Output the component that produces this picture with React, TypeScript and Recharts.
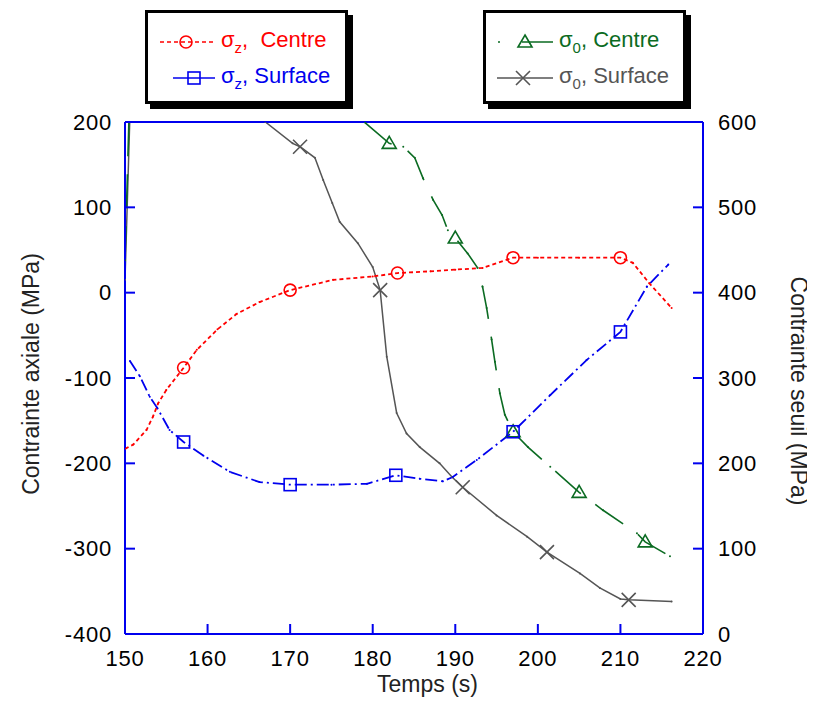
import { LineChart, Line, XAxis, YAxis } from 'recharts'

// temps (s) et contraintes
const centreT = [150, 151, 152.6, 153.4, 154, 155, 157.1, 158.7, 161.2, 163.5, 166.3, 170, 175.2, 180, 183, 187, 190, 193.3, 197, 200, 205, 210, 211.5, 213.5, 216.2]
const centreZ = [-183, -178, -161, -145, -130, -114, -88, -67, -43, -25, -11, 3, 15, 19, 23, 25, 27, 29, 41, 41, 41, 41, 35, 11, -18]
const centreMarks = [157.1, 170, 183, 197, 210]

const surfaceT = [150.6, 151.8, 153, 153.9, 155.4, 157.1, 159.5, 162.7, 166.3, 170, 175, 179.3, 182.8, 185.7, 188.5, 189.7, 192.6, 197, 201.5, 205.9, 210, 213.2, 215.8]
const surfaceZ = [-80, -98, -122, -135, -161, -175, -191, -210, -222, -225, -225, -224, -214, -218, -221, -216, -196, -163, -120, -79, -46, 7, 33]
const surfaceMarks = [157.1, 170, 182.8, 197, 210]

const seuilCentreT = [150, 150.5, 160, 179.1, 182, 183.7, 185.1, 186.1, 187.3, 188.4, 189.1, 190, 191.5, 192.7, 193.3, 193.8, 194.4, 194.8, 195.4, 196, 197, 198.8, 201.5, 205, 207.9, 212, 213, 216]
const seuilCentre = [438, 610, null, 599, 575, 571, 558, 534, 509, 491, 473, 464, 446, 429, 407, 382, 345, 319, 282, 257, 237, 219, 196, 166, 145, 118, 108, 91]
const seuilCentreMarks = [182, 190, 197, 205, 213]

const seuilSurfaceT = [150, 150.6, 160, 167, 170.3, 171.2, 173, 174, 175.1, 176, 178.2, 180, 180.9, 181.7, 182.9, 184.1, 185.7, 188.1, 189.6, 190.9, 195, 198.7, 201.1, 205.1, 207.5, 210, 211, 216.2]
const seuilSurface = [415, 610, null, 600, 575, 571, 558, 532, 505, 483, 458, 430, 403, 325, 259, 235, 219, 200, 184, 172, 139, 114, 96, 71, 54, 41, 40, 38]
const seuilSurfaceMarks = [171.2, 180.9, 190.9, 201.1, 211]

const timeTicks = [150, 160, 170, 180, 190, 200, 210, 220]
const axialTicks = [-400, -300, -200, -100, 0, 100, 200]
const seuilTicks = [0, 100, 200, 300, 400, 500, 600]

const RED = '#ff0000'
const BLUE = '#0000ee'
const GREEN = '#0b6b22'
const GRAY = '#555555'
const FONT = '"Liberation Sans", Arial, Helvetica, sans-serif'

const build = (ts: number[], vs: (number | null)[], marks: number[]) =>
  ts.map((t, i) => ({ t, v: vs[i], m: marks.includes(t) }))

type Shape = 'circle' | 'square' | 'triangle' | 'cross'

function Marker({ shape, x, y, color }: { shape: Shape; x: number; y: number; color: string }) {
  if (shape === 'circle') return <circle cx={x} cy={y} r={6} fill="none" stroke={color} strokeWidth={1.6} />
  if (shape === 'square') return <rect x={x - 6} y={y - 6} width={12} height={12} fill="none" stroke={color} strokeWidth={1.6} />
  if (shape === 'triangle')
    return <path d={`M${x},${y - 7} L${x + 7},${y + 5} L${x - 7},${y + 5} Z`} fill="none" stroke={color} strokeWidth={1.6} />
  return <path d={`M${x - 7},${y - 7} L${x + 7},${y + 7} M${x - 7},${y + 7} L${x + 7},${y - 7}`} stroke={color} strokeWidth={1.6} />
}

const dotFor = (shape: Shape, color: string) => (props: any) => {
  const { cx, cy, payload, index } = props
  if (cx == null || cy == null || payload.v == null) return <g key={`d${index}`} />
  if (payload.m) return <g key={`d${index}`}><Marker shape={shape} x={cx} y={cy} color={color} /></g>
  return <circle key={`d${index}`} cx={cx} cy={cy} r={1} fill={color} />
}

const tickStyle = { fontSize: 22, fill: '#000', fontFamily: FONT, letterSpacing: 0.8 }
const axisStyle = { stroke: BLUE, strokeWidth: 2 }

function LegendBox({ left, rows }: { left: number; rows: { shape: Shape; color: string; dash?: string; x1: number; mx: number; name: string; sub: string; gap?: string }[] }) {
  return (
    <div style={{ position: 'absolute', left, top: 2, width: 203, height: 94, boxSizing: 'border-box', border: '3px solid #000', boxShadow: '5px 5px 0 #000', background: '#fff' }}>
      {rows.map((r, i) => (
        <div key={i} style={{ position: 'absolute', left: 0, top: 14 + i * 36, height: 30, width: 200 }}>
          <svg width={70} height={30} style={{ position: 'absolute', left: 0, top: 0 }}>
            <line x1={r.x1} y1={15} x2={67} y2={15} stroke={r.color} strokeWidth={1.6} strokeDasharray={r.dash} />
            <Marker shape={r.shape} x={r.mx} y={15} color={r.color} />
          </svg>
          <div style={{ position: 'absolute', left: 73, top: 0, color: r.color, fontFamily: FONT, fontSize: 22, whiteSpace: 'pre', lineHeight: '26px' }}>
            σ<sub style={{ fontSize: 15, verticalAlign: '-6px' }}>{r.sub}</sub>{r.gap ?? ', '}{r.name}
          </div>
        </div>
      ))}
    </div>
  )
}

export default function App() {
  const centre = build(centreT, centreZ, centreMarks)
  const surface = build(surfaceT, surfaceZ, surfaceMarks)
  const sCentre = build(seuilCentreT, seuilCentre, seuilCentreMarks)
  const sSurface = build(seuilSurfaceT, seuilSurface, seuilSurfaceMarks)
  return (
    <div style={{ position: 'relative', width: 800, height: 719, fontFamily: FONT }}>
      <LineChart width={800} height={719} margin={{ top: 112, right: 30, bottom: 33, left: 0 }}>
        <XAxis dataKey="t" type="number" domain={[150, 220]} ticks={timeTicks} interval={0} allowDataOverflow
          axisLine={axisStyle} tickLine={axisStyle} tickSize={-10} tickMargin={26} tick={tickStyle} height={60} />
        <XAxis xAxisId="top" orientation="top" dataKey="t" type="number" domain={[150, 220]} ticks={timeTicks} interval={0}
          axisLine={axisStyle} tickLine={axisStyle} tickSize={-10} tickFormatter={() => ''} height={2} />
        <YAxis yAxisId="left" type="number" domain={[-400, 200]} ticks={axialTicks} interval={0} allowDataOverflow
          axisLine={axisStyle} tickLine={axisStyle} tickSize={-10} tickMargin={23} tick={tickStyle} width={117} />
        <YAxis yAxisId="right" orientation="right" type="number" domain={[0, 600]} ticks={seuilTicks} interval={0} allowDataOverflow
          axisLine={axisStyle} tickLine={axisStyle} tickSize={-10} tickMargin={25} tick={{ ...tickStyle, textAnchor: 'start' }} width={75} />
        <Line yAxisId="right" data={sSurface} dataKey="v" type="linear" stroke={GRAY} strokeWidth={1.5}
          dot={dotFor('cross', GRAY)} isAnimationActive={false} connectNulls={false} />
        <Line yAxisId="right" data={sCentre} dataKey="v" type="linear" stroke={GREEN} strokeWidth={1.6} strokeDasharray="34 18"
          dot={dotFor('triangle', GREEN)} isAnimationActive={false} connectNulls={false} />
        <Line yAxisId="left" data={surface} dataKey="v" type="linear" stroke={BLUE} strokeWidth={1.8} strokeDasharray="12 4 2 4"
          dot={dotFor('square', BLUE)} isAnimationActive={false} />
        <Line yAxisId="left" data={centre} dataKey="v" type="linear" stroke={RED} strokeWidth={1.8} strokeDasharray="4 3"
          dot={dotFor('circle', RED)} isAnimationActive={false} />
      </LineChart>

      <div style={{ position: 'absolute', left: 369, top: 663, fontSize: 23, color: '#222' }}>Temps (s)</div>
      <div style={{ position: 'absolute', left: 23, top: 366, fontSize: 23, color: '#222', whiteSpace: 'nowrap', transform: 'translate(-50%, -50%) rotate(-90deg)' }}>
        Contrainte axiale (MPa)
      </div>
      <div style={{ position: 'absolute', left: 790, top: 383, fontSize: 23, color: '#222', whiteSpace: 'nowrap', transform: 'translate(-50%, -50%) rotate(90deg)' }}>
        Contrainte seuil (MPa)
      </div>

      <LegendBox left={137} rows={[
        { shape: 'circle', color: RED, dash: '4 3', x1: 12, mx: 38, name: 'Centre', sub: 'z', gap: ',  ' },
        { shape: 'square', color: BLUE, x1: 25, mx: 46, name: 'Surface', sub: 'z' },
      ]} />
      <LegendBox left={475} rows={[
        { shape: 'triangle', color: GREEN, dash: '2 22 100', x1: 12, mx: 39, name: 'Centre', sub: '0' },
        { shape: 'cross', color: GRAY, x1: 11, mx: 37, name: 'Surface', sub: '0' },
      ]} />
    </div>
  )
}
